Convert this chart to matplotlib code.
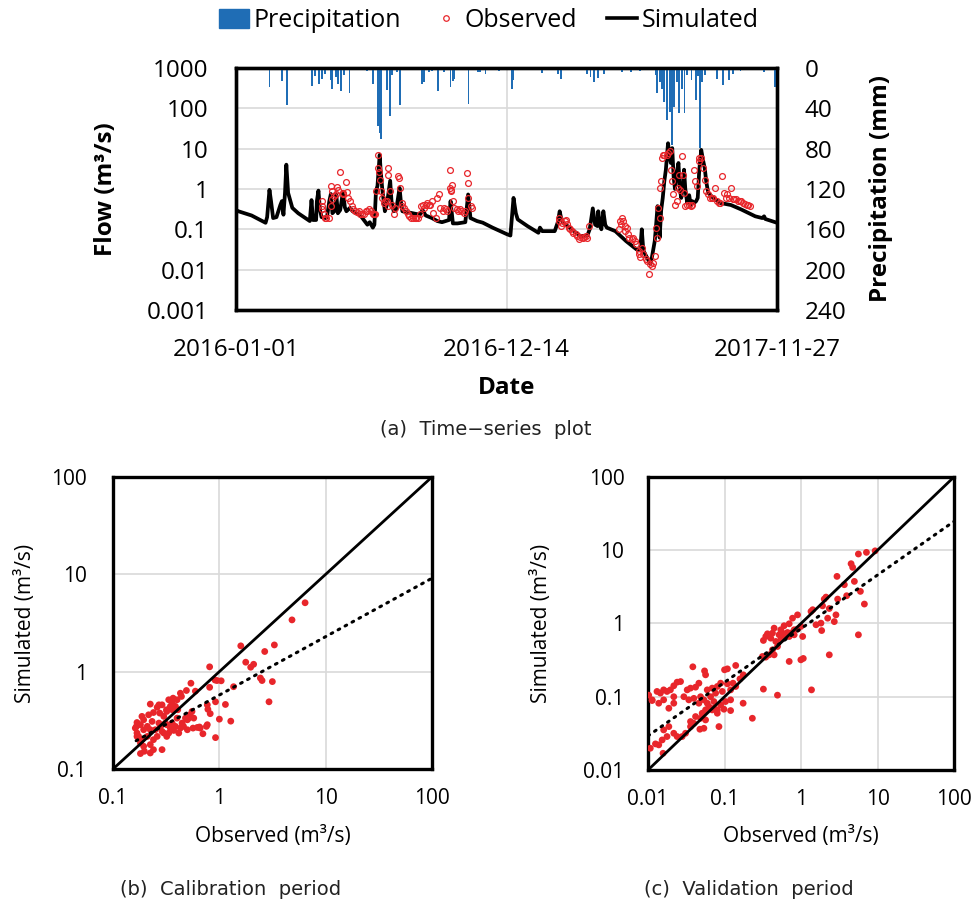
import numpy as np
import matplotlib
matplotlib.use("Agg")
import matplotlib.pyplot as plt
from matplotlib.lines import Line2D
from matplotlib.patches import Patch

plt.rcParams['font.family'] = ['Open Sans', 'DejaVu Sans']

# ---------------- DATA ----------------
xtick_labels = ["2016-01-01", "2016-12-14", "2017-11-27"]
xtick_days = [0, 348, 696]          # days since 2016-01-01

# simulated flow (day offset, m3/s)
sim_days = [0, 3, 20, 38, 40, 43, 45, 47.7, 52, 57, 59, 61, 63, 64.7, 67, 72.4, 80, 94.9, 96, 97.1, 99,
            103, 104, 106, 108, 110, 115, 117, 120, 122, 124, 128, 129, 131, 134, 137.6, 140, 142, 146.6,
            150, 160, 169, 172, 176, 178, 180, 182, 184.8, 186, 188, 190, 191.5, 194, 198.3, 200, 202.8,
            206, 210.4, 212, 214, 223, 236.5, 240, 244, 252, 259, 265, 274, 276, 279, 285, 295, 298.6,
            301.6, 310, 317.4, 330, 348.9, 353, 355, 357, 360, 362.4, 375, 389, 391, 394, 410, 414, 416.4,
            418, 420.9, 443, 452, 455, 459, 462, 465, 466, 468, 470, 472.6, 475, 477, 488, 501.8, 515, 520,
            522, 524, 526.5, 533, 535, 538.7, 540, 542.3, 545, 547, 549, 551, 553, 555.8, 558, 559.4, 561.2,
            563, 564.7, 567, 569.2, 571, 572.8, 575, 576.4, 578, 580.5, 583, 585, 587, 589.5, 592, 594, 596,
            598.5, 601, 603, 605, 607.5, 614, 623, 636.7, 650, 668, 677, 679.4, 681, 696]
sim_flow = [0.30, 0.28, 0.22, 0.145, 0.2, 0.95, 0.5, 0.19, 0.2, 0.4, 0.5, 0.23, 0.8, 4.0, 0.8, 0.34, 0.25,
            0.16, 0.3, 0.53, 0.17, 0.17, 0.5, 0.91, 0.3, 0.2, 0.19, 0.2, 0.5, 0.75, 0.25, 0.3, 0.72, 0.25,
            0.3, 0.85, 0.35, 0.28, 0.34, 0.28, 0.22, 0.13, 0.15, 0.11, 0.13, 0.87, 1.2, 7.0, 3.0, 1.06, 0.5,
            0.28, 0.4, 1.6, 0.5, 0.28, 0.3, 1.06, 0.5, 0.28, 0.26, 0.23, 0.3, 0.22, 0.19, 0.16, 0.15, 0.17,
            0.5, 0.14, 0.14, 0.15, 0.73, 0.19, 0.16, 0.146, 0.11, 0.075, 0.07, 0.2, 0.6, 0.25, 0.176, 0.12,
            0.082, 0.11, 0.09, 0.09, 0.15, 0.28, 0.2, 0.146, 0.068, 0.07, 0.1, 0.33, 0.13, 0.12, 0.28, 0.13,
            0.1, 0.28, 0.13, 0.11, 0.09, 0.051, 0.032, 0.03, 0.1, 0.03, 0.024, 0.014, 0.02, 0.051, 0.1,
            0.375, 0.062, 0.3, 0.6, 1.55, 3.0, 13.6, 6.0, 4.4, 10.3, 2.0, 1.0, 2.5, 4.4, 1.0, 0.6, 1.2, 3.0,
            1.0, 0.45, 0.7, 0.40, 0.5, 0.45, 0.5, 0.6, 3.0, 9.3, 5.0, 3.3, 1.5, 0.8, 0.6, 0.45, 0.40, 0.31,
            0.21, 0.19, 0.21, 0.18, 0.145]

# observed flow (day offset, m3/s)
obs_days = [111, 110, 111, 113, 114, 116, 119, 122, 122, 124, 124, 126, 129, 130, 131, 134, 137, 138, 142,
            143, 144, 147, 149, 151, 153, 156, 158, 160, 162, 165, 167, 169, 171, 174, 176, 177, 179, 180,
            182, 183, 184, 185, 186, 188, 190, 192, 194, 195, 196, 196, 198, 201, 203, 205, 209, 210, 211,
            213, 214, 216, 219, 221, 223, 225, 228, 230, 232, 234, 237, 238, 240, 242, 244, 246, 248, 250,
            252, 254, 257, 259, 261, 263, 266, 268, 270, 272, 275, 276, 277, 278, 275, 279, 281, 284, 286,
            288, 290, 293, 295, 297, 298, 299, 302, 304,
            415, 416, 418, 420, 423, 425, 426, 428, 430, 432, 434, 437, 439, 441, 443, 446, 448, 450, 452,
            454, 493, 494, 495, 496, 498, 500, 501, 503, 504, 506, 509, 511, 513, 515, 518, 519, 520, 522,
            524, 527, 529, 531, 532, 535, 537, 539, 540, 541, 543, 545, 546, 547, 548, 549, 551, 554, 556,
            558, 560, 561, 562, 565, 567, 568, 570, 571, 574, 575, 576, 578, 580, 583, 585, 587, 589, 591,
            593, 595, 596, 598, 601, 603, 604, 607, 610, 612, 614, 616, 619, 621, 623, 625, 628, 630, 632,
            634, 637, 639, 641, 643, 646, 648, 650, 652, 655, 657, 659, 661]
obs_flow = [0.50, 0.375, 0.31, 0.243, 0.193, 0.193, 0.193, 0.375, 1.17, 0.88, 0.55, 0.66, 0.73, 1.10, 0.96,
            2.7, 0.80, 0.73, 1.49, 0.845, 0.60, 0.50, 0.375, 0.31, 0.28, 0.27, 0.28, 0.243, 0.233, 0.243,
            0.28, 0.28, 0.31, 0.28, 0.233, 0.233, 0.233, 0.88, 3.3, 7.0, 2.7, 1.7, 0.88, 0.60, 0.45, 0.50,
            0.50, 0.375, 3.4, 2.26, 0.88, 0.41, 0.233, 0.34, 2.06, 1.87, 1.06, 0.45, 0.375, 0.34, 0.28,
            0.243, 0.21, 0.193, 0.193, 0.186, 0.186, 0.193, 0.233, 0.375, 0.41, 0.34, 0.41, 0.45, 0.41,
            0.41, 0.50, 0.256, 0.193, 0.60, 0.73, 0.34, 0.28, 0.34, 0.31, 0.28, 1.06, 0.88, 0.96, 1.28,
            3.0, 0.50, 0.34, 0.31, 0.28, 0.31, 0.28, 0.256, 0.28, 2.5, 1.41, 0.60, 0.375, 0.34,
            0.193, 0.16, 0.12, 0.146, 0.16, 0.166, 0.132, 0.109, 0.10, 0.091, 0.082, 0.075, 0.068, 0.056,
            0.065, 0.062, 0.065, 0.068, 0.062, 0.12, 0.10, 0.16, 0.132, 0.193, 0.16, 0.12, 0.091, 0.109,
            0.075, 0.062, 0.056, 0.062, 0.051, 0.043, 0.029, 0.024, 0.02, 0.035, 0.024, 0.018, 0.0165,
            0.008, 0.0137, 0.0125, 0.015, 0.022, 0.109, 0.062, 0.34, 0.193, 1.06, 1.55, 5.8, 7.0, 7.0, 7.0,
            7.7, 8.5, 3.0, 1.55, 0.73, 0.41, 0.50, 1.06, 2.26, 0.96, 6.4, 2.26, 0.80, 0.375, 0.41, 0.41,
            0.375, 0.41, 3.0, 1.55, 1.17, 5.8, 4.8, 5.8, 3.3, 1.7, 0.88, 0.73, 0.60, 0.60, 0.60, 1.06, 0.50,
            0.45, 0.45, 2.06, 0.80, 0.60, 0.73, 0.60, 1.06, 0.55, 0.55, 0.55, 0.50, 0.50, 0.50, 0.45, 0.43,
            0.41, 0.41, 0.375]

# precipitation (day offset, mm)
prec_days = [4, 15, 43, 59, 66, 98, 102, 107, 111, 115, 122, 124, 129, 131, 135, 139, 146, 165, 169, 176,
             183, 185, 187, 194, 198, 201, 207, 211, 230, 239, 242, 248, 252, 260, 268, 276, 279, 281, 299,
             311, 314, 321, 333, 338, 342, 355, 357, 378, 385, 394, 414, 418, 428, 452, 456, 460, 466, 473,
             497, 508, 520, 540, 542, 545, 548, 551, 555, 558, 561, 564, 567, 570, 574, 577, 580, 586, 592,
             594, 597, 600, 603, 619, 627, 634, 639, 649, 679, 693]
prec_mm = [2, 2.3, 18.8, 13.2, 36.8, 17.8, 7.9, 15.5, 10.5, 5.6, 12.2, 20.4, 8.9, 15.5, 23, 7.2, 25.3, 2,
           3.3, 15.5, 58, 64.8, 70.4, 22, 47.7, 7.2, 3.9, 36.8, 2, 15.5, 13.8, 3.9, 3.3, 23, 3.9, 18.8, 13.2,
           10.5, 36.1, 3.9, 3.9, 5.6, 2.3, 3.3, 2.3, 20.4, 12.2, 2.3, 2.3, 4.6, 5.6, 11.2, 2.3, 5.6, 8.9,
           13.8, 9.9, 5.6, 3.9, 3.9, 3.3, 7.2, 25.3, 13.8, 20.4, 33.6, 51.6, 43.4, 76.3, 38.5, 13.8, 45.0,
           20.4, 45.0, 7.2, 12.2, 31.9, 7.9, 79.6, 13.8, 7.2, 10.5, 17.1, 12.2, 5.6, 3.3, 3.9, 18.8]

# calibration scatter (observed, simulated)
cal_obs = [6.4, 4.82, 1.59, 3.29, 2.67, 1.77, 2.1, 1.97, 0.81, 2.43, 2.52, 3.15, 0.91, 0.95, 1.04, 1.36, 0.81,
           2.93, 1.14, 0.92, 0.77, 0.78, 0.82, 1.0, 1.28, 0.92, 0.70, 0.77, 0.62, 0.65, 0.565, 0.53, 0.595,
           0.54, 0.49, 0.43, 0.44, 0.40, 0.367, 0.36, 0.334, 0.346, 0.32, 0.318, 0.289, 0.27, 0.26, 0.224,
           0.24, 0.275, 0.30, 0.216, 0.187, 0.194, 0.168, 0.162, 0.168, 0.174, 0.187, 0.194, 0.181, 0.197,
           0.24, 0.289, 0.224, 0.26, 0.30, 0.334, 0.372, 0.43, 0.46, 0.50, 0.515, 0.40, 0.36, 0.32, 0.28,
           0.25, 0.224, 0.21, 0.181, 0.166, 0.194, 0.289, 0.346, 0.386, 0.446, 0.48, 0.574, 0.553, 0.406,
           0.386, 0.36, 0.31, 0.27, 0.233, 0.21, 0.24, 0.32, 0.181, 0.224, 0.168, 0.415, 0.50, 0.66, 0.755]
cal_sim = [5.1, 3.4, 1.84, 1.88, 1.61, 1.25, 1.19, 1.11, 1.12, 0.86, 0.81, 0.79, 0.82, 0.81, 0.805, 0.70,
           0.69, 0.49, 0.46, 0.49, 0.456, 0.41, 0.37, 0.325, 0.31, 0.21, 0.23, 0.285, 0.267, 0.27, 0.263,
           0.36, 0.63, 0.76, 0.64, 0.60, 0.556, 0.514, 0.534, 0.475, 0.514, 0.44, 0.39, 0.406, 0.456, 0.456,
           0.43, 0.464, 0.38, 0.375, 0.347, 0.36, 0.347, 0.32, 0.30, 0.263, 0.234, 0.216, 0.20, 0.171,
           0.144, 0.152, 0.158, 0.158, 0.178, 0.216, 0.234, 0.234, 0.249, 0.263, 0.274, 0.32, 0.333, 0.333,
           0.296, 0.285, 0.274, 0.253, 0.253, 0.274, 0.285, 0.274, 0.253, 0.243, 0.263, 0.274, 0.296,
           0.333, 0.333, 0.39, 0.406, 0.44, 0.406, 0.296, 0.296, 0.308, 0.216, 0.20, 0.216, 0.185, 0.146,
           0.216, 0.234, 0.253, 0.263, 0.274]
cal_fit_coef = 0.575          # trend: simulated = coef * observed ** exp
cal_fit_exp = 0.60
cal_fit_range = [0.165, 100]

# validation scatter (observed, simulated)
val_obs = [9.3, 7.16, 5.62, 4.51, 4.73, 2.95, 4.98, 3.68, 5.97, 3.95, 3.01, 6.73, 2.01, 2.12, 1.91, 2.34,
           2.86, 2.23, 2.72, 1.82, 1.57, 1.86, 1.42, 1.35, 0.774, 0.90, 0.60, 0.70, 0.813, 0.995, 1.05, 0.736,
           0.544, 0.445, 0.423, 0.364, 0.322, 0.346, 0.402, 0.468, 0.544, 0.614, 0.492, 0.423, 0.383, 0.445,
           0.346, 0.313, 0.70, 0.995, 1.07, 2.34, 5.62, 0.322, 0.492, 1.37, 0.70, 0.813, 0.665, 0.90, 0.572,
           0.517,
           0.0385, 0.0548, 0.0565, 0.14, 0.10, 0.109, 0.176, 0.159, 0.129, 0.109, 0.0889, 0.0804, 0.069,
           0.0594, 0.0462, 0.0418, 0.0359, 0.0325, 0.0266, 0.024, 0.0217, 0.0196, 0.0177, 0.016, 0.0145,
           0.0131, 0.0113, 0.0102, 0.016, 0.0138, 0.0217, 0.0294, 0.0341, 0.0397, 0.0486, 0.0537, 0.0657,
           0.0764, 0.0934, 0.12, 0.14, 0.12, 0.103, 0.0889, 0.0726, 0.0625, 0.0565, 0.051, 0.0486, 0.0565,
           0.0537, 0.0476, 0.0397, 0.0359, 0.0418, 0.0359, 0.0309, 0.0279, 0.024, 0.0217, 0.0187, 0.016,
           0.0177, 0.0153, 0.0138, 0.0125, 0.0107, 0.0157, 0.0845, 0.0804, 0.0804, 0.0982, 0.12, 0.175,
           0.231, 0.069, 0.0726, 0.0594, 0.0462, 0.0217, 0.0113, 0.0187]
val_sim = [9.8, 9.34, 8.87, 6.54, 5.83, 4.39, 3.75, 3.38, 2.74, 2.39, 2.15, 1.84, 2.15, 2.29, 1.74, 1.60,
           1.31, 1.18, 1.06, 1.01, 0.96, 0.80, 1.54, 1.46, 1.18, 1.31, 0.93, 0.99, 0.82, 0.91, 0.664, 0.738,
           0.82, 0.863, 0.738, 0.722, 0.586, 0.664, 0.63, 0.568, 0.598, 0.664, 0.485, 0.436, 0.373, 0.373,
           0.347, 0.354, 0.303, 0.319, 0.333, 0.373, 0.70, 0.127, 0.105, 0.124, 0.664, 0.70, 0.753, 0.837,
           0.738, 0.70,
           0.256, 0.225, 0.199, 0.267, 0.233, 0.24, 0.199, 0.175, 0.153, 0.15, 0.153, 0.138, 0.131, 0.124,
           0.153, 0.135, 0.131, 0.124, 0.161, 0.158, 0.141, 0.124, 0.118, 0.124, 0.112, 0.118, 0.0906, 0.105,
           0.0906, 0.0815, 0.0815, 0.10, 0.0906, 0.095, 0.10, 0.0906, 0.10, 0.112, 0.118, 0.124, 0.138,
           0.0906, 0.0859, 0.0773, 0.0696, 0.0734, 0.0661, 0.0595, 0.0508, 0.0482, 0.0371, 0.036, 0.0434,
           0.0391, 0.0536, 0.0458, 0.0317, 0.0286, 0.0286, 0.0317, 0.0391, 0.0352, 0.0286, 0.0257, 0.022,
           0.0227, 0.0198, 0.0169, 0.0391, 0.0595, 0.0661, 0.0675, 0.0647, 0.0815, 0.0508, 0.0661, 0.0859,
           0.0815, 0.0815, 0.10, 0.0887, 0.0696]
val_fit_coef = 0.85
val_fit_exp = 0.732
val_fit_range = [0.01, 100]

# ---------------- STYLE ----------------
RED = '#e8262b'
BLUE = '#1f6db5'
GRID = '#d9d9d9'
FRAME_LW = 2.4
CAPTION_FONT = ['DejaVu Sans']

fig = plt.figure(figsize=(9.77, 9.05), dpi=100)

def style_frame(ax):
    for s in ax.spines.values():
        s.set_linewidth(FRAME_LW)
        s.set_color('black')

# ---------------- (a) time series ----------------
ax = fig.add_axes([0.2416, 0.6575, 0.5537, 0.2674])
ax.set_yscale('log')
ax.set_ylim(0.001, 1000)
ax.set_xlim(0, 696)
ax.set_yticks([0.001, 0.01, 0.1, 1, 10, 100, 1000])
ax.set_yticklabels(['0.001', '0.01', '0.1', '1', '10', '100', '1000'])
ax.minorticks_off()
ax.set_xticks(xtick_days)
ax.set_xticklabels(xtick_labels)
ax.grid(True, color=GRID, lw=1.2)
ax.set_axisbelow(True)
ax.tick_params(length=0, labelsize=17.5, pad=20)
ax.plot(sim_days, sim_flow, color='black', lw=2.7, zorder=3)
ax.plot(obs_days, obs_flow, ls='none', marker='o', ms=4.2, mfc='none', mec=RED, mew=0.9, zorder=4)
ax.set_ylabel('Flow (m³/s)', fontsize=17.5, fontweight='bold')
ax.yaxis.set_label_coords(-0.218, 0.5)
ax.set_xlabel('Date', fontsize=17.5, fontweight='bold')
ax.xaxis.set_label_coords(0.5, -0.272)
style_frame(ax)

ax2 = ax.twinx()
ax2.set_ylim(240, 0)
ax2.set_yticks([0, 40, 80, 120, 160, 200, 240])
ax2.bar(prec_days, prec_mm, width=2.4, color=BLUE, zorder=2)
ax2.tick_params(length=0, labelsize=17.5, pad=20)
ax2.set_ylabel('Precipitation (mm)', fontsize=17.5, fontweight='bold', rotation=90)
ax2.yaxis.set_label_coords(1.17, 0.5)
style_frame(ax2)

handles = [Patch(facecolor=BLUE, edgecolor=BLUE),
           Line2D([], [], ls='none', marker='o', ms=4, mfc='none', mec=RED, mew=0.9),
           Line2D([], [], color='black', lw=2.6)]
fig.legend(handles, ['Precipitation', 'Observed', 'Simulated'], loc='center',
           bbox_to_anchor=(0.5005, 0.977), ncol=3, frameon=False, fontsize=18,
           handlelength=1.2, handleheight=0.8, handletextpad=0.16, columnspacing=1.2)

fig.text(0.4974, 0.5249, '(a)  Time\u2212series  plot', ha='center', va='center', fontsize=14,
         color='#222222', family=CAPTION_FONT)

# ---------------- scatter panels ----------------
def scatter_panel(rect, obs, sim, lo, coef, expo, frange, ticks, labels, ypad, ylab_x, xlab_y):
    a = fig.add_axes(rect)
    a.set_xscale('log'); a.set_yscale('log')
    a.set_xlim(lo, 100); a.set_ylim(lo, 100)
    a.set_xticks(ticks); a.set_xticklabels(labels)
    a.set_yticks(ticks); a.set_yticklabels(labels)
    a.minorticks_off()
    a.grid(True, color=GRID, lw=1.2)
    a.set_axisbelow(True)
    a.tick_params(length=0, labelsize=15)
    a.tick_params(axis='y', pad=ypad)
    a.tick_params(axis='x', pad=14)
    a.scatter(obs, sim, s=24, color=RED, edgecolors='none', zorder=3)
    lim = np.array([lo, 100])
    a.plot(lim, lim, color='black', lw=2.0, zorder=4)
    fr = np.array(frange)
    a.plot(fr, coef * fr ** expo, color='black', lw=2.2, ls=(0, (0.6, 2.0)),
           dash_capstyle='round', zorder=4)
    a.set_xlabel('Observed (m³/s)', fontsize=15)
    a.xaxis.set_label_coords(0.5, xlab_y)
    a.set_ylabel('Simulated (m³/s)', fontsize=15)
    a.yaxis.set_label_coords(ylab_x, 0.5)
    style_frame(a)
    return a

scatter_panel([0.1157, 0.1503, 0.3265, 0.3227], cal_obs, cal_sim, 0.1, cal_fit_coef, cal_fit_exp,
              cal_fit_range, [0.1, 1, 10, 100], ['0.1', '1', '10', '100'], 19, -0.24, -0.194)
scatter_panel([0.6633, 0.1492, 0.3132, 0.3238], val_obs, val_sim, 0.01, val_fit_coef, val_fit_exp,
              val_fit_range, [0.01, 0.1, 1, 10, 100], ['0.01', '0.1', '1', '10', '100'], 17, -0.314, -0.19)

fig.text(0.2364, 0.0166, '(b)  Calibration  period', ha='center', va='center', fontsize=14,
         color='#222222', family=CAPTION_FONT)
fig.text(0.7666, 0.0166, '(c)  Validation  period', ha='center', va='center', fontsize=14,
         color='#222222', family=CAPTION_FONT)

fig.savefig('out.png', dpi=100)
